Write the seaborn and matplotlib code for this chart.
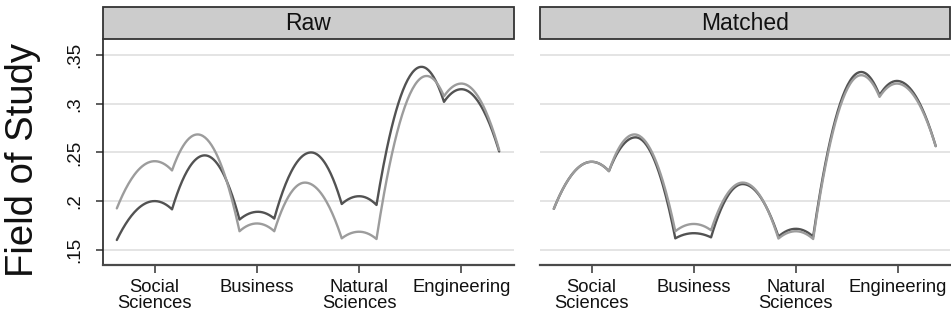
import numpy as np
import pandas as pd
import matplotlib
matplotlib.use("Agg")
import matplotlib.pyplot as plt
from matplotlib.patches import Rectangle
import seaborn as sns

# ---------------- data ----------------
categories = ["Social\nSciences", "Business", "Natural\nSciences", "Engineering"]
cat_pos = [1, 2, 3, 4]
y_ticks = [0.15, 0.20, 0.25, 0.30, 0.35]
y_ticklabels = [".15", ".2", ".25", ".3", ".35"]
panels = ["Raw", "Matched"]

# knots: start, peak, cusp, peak, cusp, ..., peak, end
raw_dark_x = [0.63, 1.00, 1.17, 1.49, 1.83, 2.01, 2.17, 2.53, 2.83, 3.00, 3.17, 3.61, 3.83, 4.00, 4.37]
raw_dark_y = [0.160, 0.200, 0.1915, 0.247, 0.181, 0.189, 0.182, 0.250, 0.197, 0.205, 0.196, 0.338, 0.302, 0.315, 0.251]
raw_light_x = [0.63, 1.00, 1.17, 1.42, 1.83, 2.00, 2.17, 2.47, 2.83, 3.00, 3.17, 3.66, 3.83, 4.00, 4.37]
raw_light_y = [0.1925, 0.241, 0.2315, 0.2685, 0.169, 0.177, 0.169, 0.219, 0.1617, 0.1685, 0.161, 0.3286, 0.3078, 0.3208, 0.2524]

matched_dark_x = [0.63, 1.00, 1.17, 1.43, 1.82, 2.00, 2.17, 2.48, 2.83, 3.00, 3.17, 3.64, 3.82, 3.99, 4.37]
matched_dark_y = [0.192, 0.2404, 0.2308, 0.2655, 0.1617, 0.167, 0.1627, 0.2175, 0.1635, 0.1715, 0.1635, 0.3327, 0.3088, 0.3235, 0.2565]
matched_light_x = [0.63, 1.00, 1.17, 1.42, 1.82, 2.00, 2.17, 2.48, 2.83, 3.00, 3.17, 3.64, 3.82, 3.99, 4.37]
matched_light_y = [0.192, 0.2404, 0.2308, 0.2685, 0.169, 0.1765, 0.170, 0.219, 0.1615, 0.169, 0.161, 0.3294, 0.3071, 0.3208, 0.2565]

series = {
    "Raw": {"dark": (raw_dark_x, raw_dark_y), "light": (raw_light_x, raw_light_y)},
    "Matched": {"dark": (matched_dark_x, matched_dark_y), "light": (matched_light_x, matched_light_y)},
}


def arc_curve(xk, yk, n=40):
    """Piecewise arcs (like Stata's mspline): each peak knot is the vertex of
    two half-parabolas that meet the neighbouring cusp knots."""
    xs, ys = [], []
    for j in range(1, len(xk) - 1, 2):
        xl, yl = xk[j - 1], yk[j - 1]
        xp, yp = xk[j], yk[j]
        xr, yr = xk[j + 1], yk[j + 1]
        t = np.linspace(xl, xp, n)
        xs.append(t); ys.append(yp - (yp - yl) * ((t - xp) / (xl - xp)) ** 2)
        t = np.linspace(xp, xr, n)[1:]
        xs.append(t); ys.append(yp - (yp - yr) * ((t - xp) / (xr - xp)) ** 2)
    return np.concatenate(xs), np.concatenate(ys)


rows = []
for p in panels:
    for g in ["dark", "light"]:
        cx, cy = arc_curve(*series[p][g])
        rows.append(pd.DataFrame({"panel": p, "group": g, "x": cx, "y": cy}))
df = pd.concat(rows, ignore_index=True)

# ---------------- style ----------------
sns.set_theme(style="white")
plt.rcParams["font.family"] = ["Liberation Sans", "DejaVu Sans"]

W, H = 951, 320
fig = plt.figure(figsize=(W / 100, H / 100), dpi=100)
ax_top, ax_bot = 39.3, 265.0
boxes = {"Raw": (102.5, 513.5), "Matched": (539.5, 950.0)}
palette = {"dark": "#525252", "light": "#9c9c9c"}

for i, p in enumerate(panels):
    l, r = boxes[p]
    ax = fig.add_axes([l / W, 1 - ax_bot / H, (r - l) / W, (ax_bot - ax_top) / H])
    sub = df[df.panel == p]
    sns.lineplot(data=sub, x="x", y="y", hue="group", palette=palette,
                 hue_order=["dark", "light"], sort=False, estimator=None,
                 units="group", legend=False, linewidth=1.7, ax=ax)
    ax.set_xlim(0.49, 4.51)
    ax.set_ylim(0.1343, 0.3663)
    for yt in y_ticks:
        ax.axhline(yt, color="#e2e2e2", lw=1.3, zorder=0)
    ax.set_xlabel("")
    ax.set_ylabel("")
    ax.set_xticks(cat_pos)
    ax.set_xticklabels(categories, fontsize=13.2, linespacing=0.95)
    ax.tick_params(axis="x", direction="out", length=6, width=1.1, color="#333333",
                   pad=4, bottom=True, labelcolor="#111111")
    for s in ["top", "right"]:
        ax.spines[s].set_visible(False)
    ax.spines["bottom"].set_color("#4a4a4a")
    ax.spines["bottom"].set_linewidth(1.6)
    ax.set_yticks(y_ticks)
    if i == 0:
        ax.set_yticklabels(y_ticklabels, rotation=90, va="center", fontsize=13.5)
        ax.tick_params(axis="y", direction="out", length=5, width=1.1, color="#333333",
                       pad=9, left=True, labelcolor="#111111")
        ax.spines["left"].set_color("#222222")
        ax.spines["left"].set_linewidth(1.2)
    else:
        ax.set_yticklabels([])
        ax.tick_params(axis="y", left=False)
        ax.spines["left"].set_visible(False)
    # strip header
    strip_h = (ax_top - 6.7) / (ax_bot - ax_top)
    ax.add_patch(Rectangle((0, 1), 1, strip_h, transform=ax.transAxes, clip_on=False,
                           facecolor="#cccccc", edgecolor="#333333", lw=1.3, zorder=5))
    ax.text(0.5, 1 + strip_h / 2, p, transform=ax.transAxes, ha="center", va="center",
            fontsize=16.5, color="#111111", zorder=6)

fig.text(5 / W, 1 - 160 / H, "Field of Study", rotation=90, ha="left", va="center",
         fontsize=27.5, color="#111111")

fig.savefig("out.png", dpi=100)
